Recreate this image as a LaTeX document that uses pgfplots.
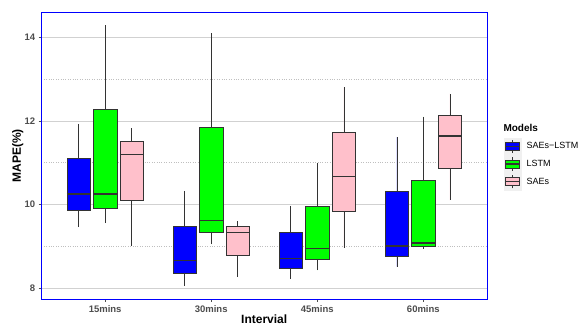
\documentclass[border=0pt]{standalone}
\usepackage{fontspec}
\setmainfont{Liberation Sans}
\usepackage{pgfplots}
\pgfplotsset{compat=1.18}
\usepgfplotslibrary{statistics}
\definecolor{bxblue}{HTML}{0000FF}
\definecolor{bxgreen}{HTML}{00FF00}
\definecolor{bxpink}{HTML}{FFC0CB}
\definecolor{outl}{HTML}{333333}
\pgfplotsset{bxs/.style={forget plot, fill=#1, draw=outl, line width=0.6pt, mark=none,
  boxplot/draw direction=y,
  boxplot/box extend=0.22, boxplot/whisker extend=0,
  boxplot/draw/median/.code={\draw[outl, line width=1.6pt]
    (boxplot box cs:\pgfplotsboxplotvalue{median},0) --
    (boxplot box cs:\pgfplotsboxplotvalue{median},1);}}}
\pgfplotsset{legbox/.style={legend image code/.code={
  \fill[black!6] (0pt,-8.6pt) rectangle (17.3pt,8.6pt);
  \draw[outl, line width=0.5pt] (8.65pt,-6.8pt) -- (8.65pt,-4pt) (8.65pt,4pt) -- (8.65pt,6.8pt);
  \filldraw[fill=#1, draw=outl, line width=0.6pt] (1.9pt,-4pt) rectangle (15.4pt,4pt);
  \draw[outl, line width=1.2pt] (1.9pt,0pt) -- (15.4pt,0pt);
}}}
\begin{document}
\begin{tikzpicture}[x=1pt,y=1pt]
\path[use as bounding box] (0,0) rectangle (579,326);
\begin{axis}[
  at={(41.5pt,27pt)}, anchor=south west,
  scale only axis, width=445.5pt, height=286.5pt,
  xmin=0.4, xmax=4.6, ymin=7.745, ymax=14.59,
  xtick={1,2,3,4}, xticklabels={15mins,30mins,45mins,60mins},
  ytick={8,10,12,14}, minor ytick={9,11,13},
  ymajorgrids, yminorgrids,
  major grid style={draw=black!18, line width=0.7pt},
  minor grid style={draw=black!25, dotted, line width=0.7pt},
  axis line style={draw=blue, line width=0.8pt},
  tick align=outside, major tick length=2.75pt, minor tick length=0pt,
  tick style={draw=black!70, line width=0.5pt},
  xtick pos=lower, ytick pos=left,
  /pgf/number format/assume math mode=true,
  ticklabel style={font=\bfseries\fontsize{9.5}{11}\selectfont, text=black!70},
  xlabel={Intervial}, ylabel={MAPE(\%)},
  label style={font=\bfseries\fontsize{12}{14}\selectfont},
  xlabel style={at={(axis description cs:0.5,-0.0716)}, anchor=center},
  ylabel style={at={(axis description cs:-0.0534,0.5)}, anchor=center},
  clip=false,
  legend style={at={(1.0366,0.564)}, anchor=north west, draw=none, fill=none,
    inner sep=0pt, row sep=0pt, font=\fontsize{9}{10}\selectfont,
    nodes={inner sep=0pt},
    /tikz/every odd column/.append style={column sep=5.5pt}},
  legend cell align=left,
]
% 15mins
\addplot+[bxs=bxblue, boxplot prepared={draw position=0.75, lower whisker=9.46, lower quartile=9.86, median=10.26, upper quartile=11.10, upper whisker=11.93}] coordinates {};
\addplot+[bxs=bxgreen, boxplot prepared={draw position=1.00, lower whisker=9.56, lower quartile=9.90, median=10.26, upper quartile=12.27, upper whisker=14.29}] coordinates {};
\addplot+[bxs=bxpink, boxplot prepared={draw position=1.25, lower whisker=9.00, lower quartile=10.10, median=11.20, upper quartile=11.51, upper whisker=11.83}] coordinates {};
% 30mins
\addplot+[bxs=bxblue, boxplot prepared={draw position=1.75, lower whisker=8.06, lower quartile=8.35, median=8.66, upper quartile=9.48, upper whisker=10.33}] coordinates {};
\addplot+[bxs=bxgreen, boxplot prepared={draw position=2.00, lower whisker=9.05, lower quartile=9.34, median=9.62, upper quartile=11.85, upper whisker=14.09}] coordinates {};
\addplot+[bxs=bxpink, boxplot prepared={draw position=2.25, lower whisker=8.27, lower quartile=8.79, median=9.33, upper quartile=9.47, upper whisker=9.61}] coordinates {};
% 45mins
\addplot+[bxs=bxblue, boxplot prepared={draw position=2.75, lower whisker=8.23, lower quartile=8.47, median=8.71, upper quartile=9.34, upper whisker=9.97}] coordinates {};
\addplot+[bxs=bxgreen, boxplot prepared={draw position=3.00, lower whisker=8.43, lower quartile=8.69, median=8.95, upper quartile=9.97, upper whisker=11.00}] coordinates {};
\addplot+[bxs=bxpink, boxplot prepared={draw position=3.25, lower whisker=8.97, lower quartile=9.83, median=10.67, upper quartile=11.73, upper whisker=12.80}] coordinates {};
% 60mins
\addplot+[bxs=bxblue, boxplot prepared={draw position=3.75, lower whisker=8.52, lower quartile=8.77, median=9.01, upper quartile=10.32, upper whisker=11.61}] coordinates {};
\addplot+[bxs=bxgreen, boxplot prepared={draw position=4.00, lower whisker=8.94, lower quartile=9.00, median=9.09, upper quartile=10.59, upper whisker=12.10}] coordinates {};
\addplot+[bxs=bxpink, boxplot prepared={draw position=4.25, lower whisker=10.10, lower quartile=10.87, median=11.64, upper quartile=12.14, upper whisker=12.65}] coordinates {};
\addlegendimage{legbox=bxblue}\addlegendentry{SAEs−LSTM}
\addlegendimage{legbox=bxgreen}\addlegendentry{LSTM}
\addlegendimage{legbox=bxpink}\addlegendentry{SAEs}
\node[anchor=west, font=\bfseries\fontsize{10}{12}\selectfont, inner sep=0pt] at (axis description cs:1.0366,0.598) {Models};
\end{axis}
\end{tikzpicture}
\end{document}
